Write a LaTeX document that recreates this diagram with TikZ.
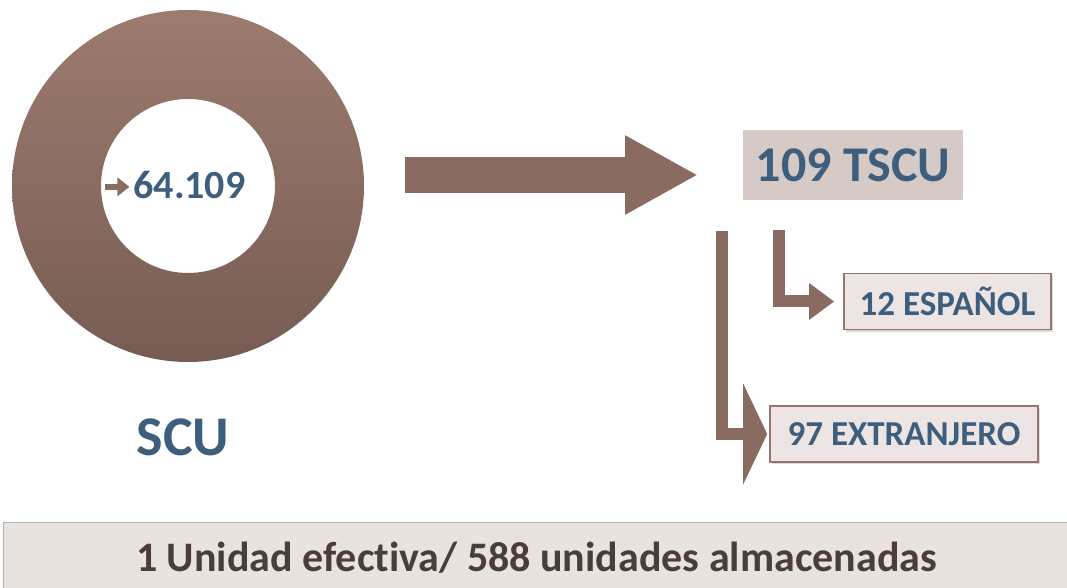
\documentclass[tikz,border=0pt]{standalone}
\usepackage{fontspec}
\setmainfont[Ligatures=NoCommon]{Carlito}
\usetikzlibrary{arrows.meta, positioning, shadows}
\definecolor{ringtop}{RGB}{157,123,111}
\definecolor{ringbot}{RGB}{118,92,83}
\definecolor{arrowbrown}{RGB}{138,107,97}
\definecolor{textblue}{RGB}{61,94,125}
\definecolor{tscufill}{RGB}{214,202,198}
\definecolor{boxfill}{RGB}{236,229,227}
\definecolor{boxline}{RGB}{150,118,108}
\definecolor{notefill}{RGB}{233,227,224}
\definecolor{notetext}{RGB}{75,61,55}
\newcommand{\markarrow}{\tikz[baseline=-0.6ex]\draw[line width=3pt, arrowbrown,
  -{Triangle[width=9pt,length=6pt]}] (0pt,0pt) -- (12pt,0pt);\kern0.5pt}
\tikzset{
  headbox/.style={
    rectangle, fill=tscufill, draw=white, line width=2.5pt,
    minimum width=112.5pt, minimum height=37.5pt, text=textblue,
    font=\fontsize{25}{30}\selectfont\bfseries,
    drop shadow={shadow xshift=0.8pt,shadow yshift=-1.2pt,opacity=0.35}
  },
  leafbox/.style={
    rectangle, fill=boxfill, draw=boxline, line width=0.8pt,
    minimum height=28pt, text=textblue,
    font=\fontsize{17.5}{21}\selectfont\bfseries,
    drop shadow={shadow xshift=0.8pt,shadow yshift=-1.2pt,opacity=0.3}
  },
  notebox/.style={
    rectangle, fill=notefill, draw=gray!60, line width=0.5pt,
    minimum width=533.5pt, minimum height=34.5pt, text=notetext,
    font=\fontsize{21}{25}\selectfont\bfseries
  },
  flow/.style={
    line width=6pt, draw=arrowbrown, line join=miter
  }
}

\begin{document}
\begin{tikzpicture}[x=0.5pt, y=-0.5pt,
  bigflow/.style={line width=18pt, draw=arrowbrown,
    -{Triangle[width=37pt,length=36.5pt,fill=arrowbrown]}}
]
\useasboundingbox (0,0) rectangle (1067,588);

% ring
\node[circle, minimum size=176pt, inner sep=0pt] (ring) at (188,186) {};
\shade[top color=ringtop, bottom color=ringbot, even odd rule]
  (ring.center) circle[radius=88pt] (ring.center) circle[radius=43.5pt];
\node[text=textblue, font=\fontsize{20}{24}\selectfont\bfseries] (total) at (174,185)
  {\markarrow64.109};
\node[text=textblue, font=\fontsize{28}{32}\selectfont\bfseries] (scu) at (183,437) {SCU};

% boxes
\node[headbox] (tscu) at (853,165) {109 TSCU};
\node[leafbox, minimum width=103.5pt] (espanol) at (947.5,301.5) {12 ESPAÑOL};
\node[leafbox, minimum width=134pt] (extranjero) at (904,434) {97 EXTRANJERO};
\node[notebox] (note) at (536.5,557.5) {1 Unidad efectiva/ 588 unidades almacenadas};

% arrows
\draw[bigflow, shorten <=20.5pt, shorten >=20pt]
  ([yshift=5.5pt]ring.east) -- ([yshift=5.5pt]ring.east -| tscu.west);
\draw[flow, -{Triangle[width=17.5pt,length=12.5pt,fill=arrowbrown]}, shorten <=12.5pt, shorten >=4.5pt]
  ([xshift=-37pt]tscu.south) |- (espanol.west);
\draw[flow, -{Triangle[width=50pt,length=12pt,fill=arrowbrown]}, shorten <=13pt, shorten >=1pt]
  ([xshift=-65.5pt]tscu.south) |- (extranjero.west);

\end{tikzpicture}
\end{document}
